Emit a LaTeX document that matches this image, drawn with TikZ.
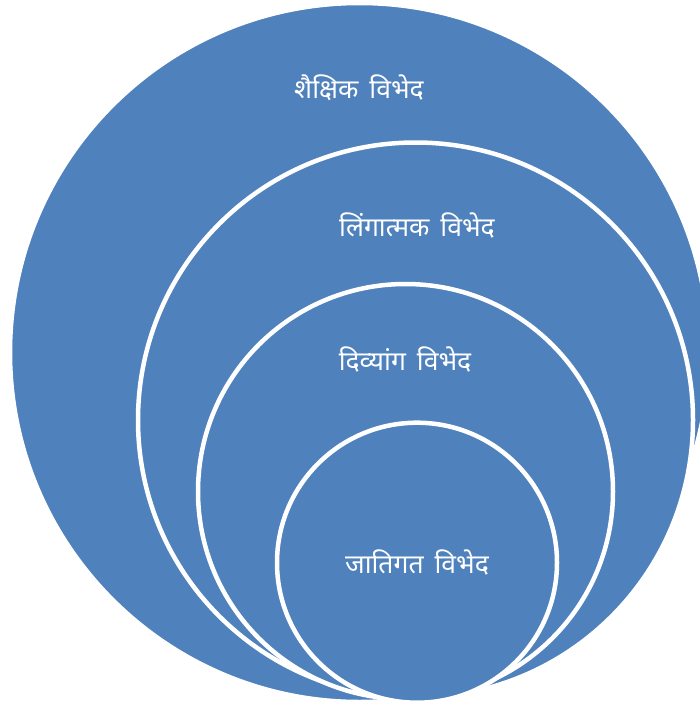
\documentclass[tikz,border=0pt]{standalone}
\usepackage{fontspec}
\newfontfamily\hindifont[Script=Devanagari]{Noto Sans}
\usepackage{tikz}
\definecolor{ringblue}{RGB}{79,129,189}

\tikzset{
    ring/.style={circle, fill=ringblue, draw=white, line width=4.5pt, inner sep=0pt},
    ring label/.style={text=white, font=\hindifont\fontsize{26.5}{31}\selectfont}
}

\begin{document}
\begin{tikzpicture}[x=1pt, y=-1pt]
\useasboundingbox (0,0) rectangle (700,704);

\foreach \r/\cx/\cy [count=\i] in {349.5/359.5/352.5, 277.5/415.5/420, 207.5/405.5/491.5, 140/417/562.7}
    \node [ring, minimum size=2*\r] (ring-\i) at (\cx,\cy) {};

\foreach \t/\cx/\cy [count=\i] in {शैक्षिक\hspace{11pt}विभेद/359/88, लिंगात्मक\hspace{11pt}विभेद/417/225, दिव्यांग\hspace{11pt}विभेद/405/359, जातिगत\hspace{11pt}विभेद/417/562}
    \node [ring label] (label-\i) at (\cx,\cy) {\t};

\end{tikzpicture}
\end{document}
